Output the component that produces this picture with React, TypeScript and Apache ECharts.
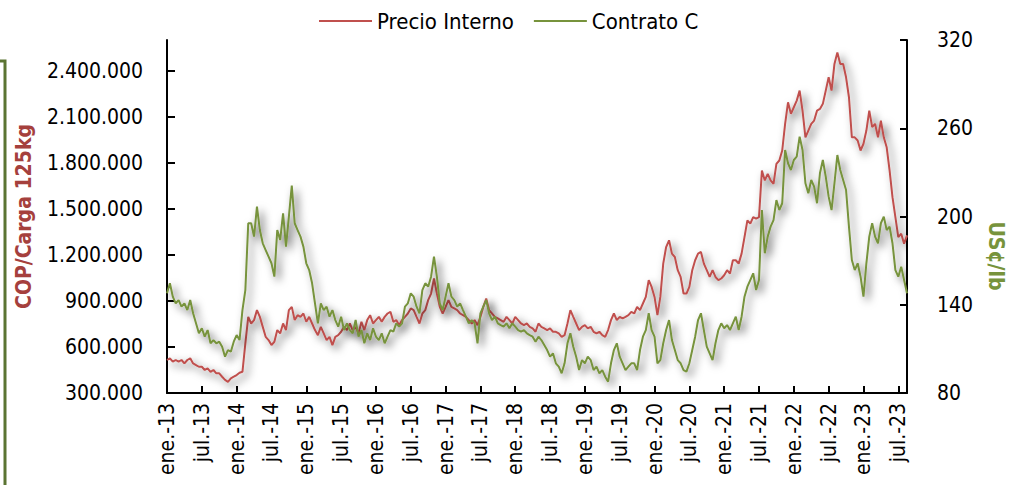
import React, { useEffect, useRef } from "react";
import * as echarts from "echarts";

// Half-month categories, Jan 2013 .. Aug 2023
const MONTHS = ["ene", "feb", "mar", "abr", "may", "jun", "jul", "ago", "sep", "oct", "nov", "dic"];
const YEARS = [2013, 2014, 2015, 2016, 2017, 2018, 2019, 2020, 2021, 2022, 2023];
const LAST_MONTH_2023 = 8;

// Precio Interno (COP / carga 125 kg), two readings per month
const precio2013 = [515000, 526000, 504000, 515000, 504000, 515000, 493000, 515000, 526000, 493000, 482000, 471000, 471000, 450000, 461000, 438000, 450000, 428000, 428000, 406000, 385000, 373000, 396000, 406000];
const precio2014 = [417000, 432000, 438000, 623000, 796000, 753000, 775000, 840000, 796000, 731000, 666000, 645000, 612000, 634000, 710000, 688000, 753000, 710000, 840000, 861000, 775000, 807000, 796000, 818000];
const precio2015 = [764000, 796000, 753000, 710000, 677000, 731000, 688000, 645000, 666000, 612000, 666000, 677000, 699000, 731000, 710000, 753000, 710000, 731000, 688000, 764000, 710000, 775000, 807000, 753000];
const precio2016 = [775000, 796000, 764000, 796000, 818000, 829000, 764000, 775000, 742000, 775000, 796000, 818000, 851000, 840000, 796000, 753000, 818000, 840000, 905000, 948000, 1046000, 948000, 861000, 818000];
const precio2017 = [861000, 905000, 861000, 851000, 840000, 818000, 807000, 796000, 775000, 753000, 775000, 742000, 796000, 861000, 916000, 840000, 818000, 796000, 786000, 775000, 764000, 796000, 775000, 753000];
const precio2018 = [796000, 775000, 753000, 742000, 753000, 731000, 721000, 699000, 753000, 731000, 721000, 710000, 721000, 699000, 699000, 688000, 666000, 677000, 753000, 840000, 796000, 753000, 710000, 731000];
const precio2019 = [742000, 721000, 731000, 699000, 688000, 699000, 677000, 666000, 710000, 775000, 818000, 775000, 796000, 786000, 796000, 807000, 829000, 818000, 861000, 840000, 883000, 926000, 1035000, 991000];
const precio2020 = [926000, 807000, 926000, 1143000, 1251000, 1295000, 1208000, 1186000, 1100000, 1056000, 948000, 948000, 991000, 1100000, 1165000, 1208000, 1219000, 1143000, 1100000, 1056000, 1100000, 1056000, 1035000, 1046000];
const precio2021 = [1067000, 1100000, 1078000, 1165000, 1165000, 1143000, 1208000, 1316000, 1425000, 1403000, 1446000, 1436000, 1446000, 1750000, 1685000, 1728000, 1685000, 1663000, 1793000, 1815000, 1880000, 2054000, 2194000, 2119000];
const precio2022 = [2162000, 2205000, 2270000, 2140000, 1966000, 2010000, 2054000, 2075000, 2140000, 2151000, 2184000, 2270000, 2357000, 2270000, 2444000, 2519000, 2444000, 2444000, 2357000, 2227000, 1966000, 1966000, 1945000, 1880000];
const precio2023 = [1924000, 2010000, 2140000, 2032000, 2054000, 1966000, 2075000, 1966000, 1901000, 1750000, 1576000, 1446000, 1316000, 1338000, 1273000, 1327000];

// Contrato C (US¢/lb), two readings per month
const contrato2013 = [147.8, 154.6, 145.5, 141, 143.2, 138.7, 141, 136.4, 143.2, 134.2, 127.4, 120.6, 124, 118.3, 122.8, 113.8, 116, 113.8, 114.9, 111.5, 104.7, 109.2, 108.1, 114.9];
const contrato2014 = [119.4, 116, 136.4, 150, 195.4, 195.4, 186.3, 206.7, 190.8, 181.8, 177.2, 172.7, 168.2, 159.1, 190.8, 184, 202.2, 179.5, 199.9, 221, 195.4, 190.8, 186.3, 179.5];
const contrato2015 = [168.2, 163.6, 154.6, 141, 127.4, 141, 136.4, 138.7, 131.9, 136.4, 129.6, 125.1, 131.9, 122.8, 127.4, 122.8, 120.6, 129.6, 118.3, 122.8, 113.8, 120.6, 116, 124];
const contrato2016 = [118.3, 116, 120.6, 113.8, 118.3, 122.8, 121.7, 127.4, 125.1, 127.4, 138.7, 141, 147.8, 145.5, 138.7, 134.2, 150, 154.6, 152.3, 159.1, 172.7, 159.1, 141, 136.4];
const contrato2017 = [145.5, 154.6, 145.5, 143.2, 138.7, 141, 136.4, 131.9, 127.4, 129.6, 127.4, 113.8, 134.2, 138.7, 143.2, 134.2, 129.6, 131.9, 127.4, 126.2, 125.1, 127.4, 124, 127.4];
const contrato2018 = [125.1, 122.8, 121.7, 122.8, 120.6, 119.4, 118.3, 114.9, 118.3, 116, 112.6, 109.2, 104.7, 107, 100.2, 97.9, 93.4, 100.2, 113.8, 120.6, 111.5, 104.7, 95.6, 102.4];
const contrato2019 = [100.2, 104.7, 102.4, 95.6, 97.9, 93.4, 95.6, 91.1, 87.7, 100.2, 109.2, 113.8, 104.7, 100.2, 95.6, 97.9, 100.2, 100.2, 95.6, 109.2, 118.3, 122.8, 134.2, 122.8];
const contrato2020 = [118.3, 100.2, 102.4, 113.8, 122.8, 129.6, 116, 109.2, 102.4, 100.2, 95.6, 94.5, 100.2, 109.2, 118.3, 129.6, 134.2, 122.8, 111.5, 107, 102.4, 113.8, 122.8, 127.4];
const contrato2021 = [124, 126.2, 122.8, 127.4, 131.9, 122.8, 131.9, 145.5, 152.3, 156.8, 161.4, 150, 156.8, 204.4, 175, 186.3, 193.1, 197.6, 211.2, 204.4, 209, 245.2, 236.2, 231.6];
const contrato2022 = [238.4, 240.7, 254.3, 245.2, 222.6, 215.8, 224.8, 220.3, 209, 229.4, 238.4, 227.1, 213.5, 204.4, 222.6, 241.8, 231.6, 224.8, 218, 193.1, 170.4, 163.6, 168.2, 159.1];
const contrato2023 = [145.5, 168.2, 186.3, 195.4, 186.3, 181.8, 195.4, 199.9, 190.8, 193.1, 181.8, 163.6, 159.1, 165.9, 156.8, 147.8];

const LEFT_TICKS = [300000, 600000, 900000, 1200000, 1500000, 1800000, 2100000, 2400000];
const RIGHT_TICKS = [80, 140, 200, 260, 320];

const precioInterno = [
  ...precio2013, ...precio2014, ...precio2015, ...precio2016, ...precio2017, ...precio2018,
  ...precio2019, ...precio2020, ...precio2021, ...precio2022, ...precio2023,
];
const contratoC = [
  ...contrato2013, ...contrato2014, ...contrato2015, ...contrato2016, ...contrato2017, ...contrato2018,
  ...contrato2019, ...contrato2020, ...contrato2021, ...contrato2022, ...contrato2023,
];

const categories: string[] = [];
YEARS.forEach((y) => {
  for (let m = 1; m <= 12; m++) {
    if (y === 2023 && m > LAST_MONTH_2023) break;
    categories.push(`${y}-${m}-1`, `${y}-${m}-2`);
  }
});

const FONT = "'DejaVu Sans Condensed', 'Liberation Sans', sans-serif";
const RED = "#C0504D";
const GREEN = "#77933C";
const FS = 21;

const fmtThousands = (v: number) => String(Math.round(v)).replace(/\B(?=(\d{3})+(?!\d))/g, ".");
const everySixMonths = (index: number) => index % 12 === 0;

export default function App() {
  const ref = useRef<HTMLDivElement>(null);
  useEffect(() => {
    if (!ref.current) return;
    const chart = echarts.init(ref.current, undefined, { renderer: "svg" });
    const shadow = {
      shadowColor: "rgba(0,0,0,0.65)",
      shadowBlur: 9,
      shadowOffsetX: 4,
      shadowOffsetY: 4,
    };
    chart.setOption({
      animation: false,
      backgroundColor: "#fff",
      textStyle: { fontFamily: FONT },
      legend: {
        left: 314,
        top: 5,
        icon: "rect",
        itemWidth: 53,
        itemHeight: 2,
        itemGap: 20,
        textStyle: { fontSize: 22, fontFamily: FONT, color: "#000" },
        data: ["Precio Interno", "Contrato C"],
      },
      grid: { left: 167, right: 103, top: 40, bottom: 92, containLabel: false, outerBoundsMode: "none" },
      xAxis: {
        type: "category",
        data: categories,
        boundaryGap: false,
        axisLine: { show: true, lineStyle: { color: "#000", width: 2 } },
        axisTick: { show: true, inside: true, length: 7, interval: everySixMonths, lineStyle: { color: "#000", width: 2 } },
        axisLabel: {
          interval: everySixMonths,
          rotate: 90,
          margin: 10,
          fontSize: FS,
          fontFamily: FONT,
          color: "#000",
          formatter: (val: string) => {
            const [y, m] = val.split("-");
            return `${MONTHS[Number(m) - 1]}.-${y.slice(2)}`;
          },
        },
        splitLine: { show: false },
      },
      yAxis: [
        {
          type: "value",
          min: 300000,
          max: 2600000,
          interval: 300000,
          name: "COP/Carga 125kg",
          nameLocation: "middle",
          nameRotate: 90,
          nameGap: 133,
          nameTextStyle: { fontSize: FS, fontWeight: "bold", fontFamily: FONT, color: "#A5403D" },
          axisLine: { show: true, lineStyle: { color: "#000", width: 2 } },
          axisTick: { show: true, inside: true, length: 8, customValues: LEFT_TICKS, lineStyle: { color: "#000", width: 2 } },
          axisLabel: { customValues: LEFT_TICKS, margin: 24, fontSize: FS, fontFamily: FONT, color: "#000", formatter: fmtThousands },
          splitLine: { show: false },
        },
        {
          type: "value",
          position: "right",
          min: 80,
          max: 320,
          interval: 60,
          axisLine: { show: true, lineStyle: { color: "#000", width: 2 } },
          axisTick: { show: true, inside: true, length: 7, customValues: RIGHT_TICKS, lineStyle: { color: "#000", width: 2 } },
          axisLabel: { customValues: RIGHT_TICKS, margin: 30, fontSize: FS, fontFamily: FONT, color: "#000" },
          splitLine: { show: false },
        },
      ],
      series: [
        {
          name: "Precio Interno",
          type: "line",
          yAxisIndex: 0,
          data: precioInterno,
          showSymbol: false,
          symbol: "none",
          itemStyle: { color: RED },
          lineStyle: { color: RED, width: 2, ...shadow },
          z: 2,
        },
        {
          name: "Contrato C",
          type: "line",
          yAxisIndex: 1,
          data: contratoC,
          showSymbol: false,
          symbol: "none",
          itemStyle: { color: GREEN },
          lineStyle: { color: GREEN, width: 2, ...shadow },
          z: 3,
        },
      ],
      graphic: [
        {
          type: "polyline",
          shape: { points: [[0, 61], [5, 61], [5, 490]] },
          style: { stroke: "#5B7432", lineWidth: 3, fill: "none" },
          silent: true,
        },
        {
          type: "text",
          x: 996,
          y: 256,
          rotation: -Math.PI / 2,
          style: {
            text: "US¢/lb",
            fontSize: FS,
            fontWeight: "bold",
            fontFamily: FONT,
            fill: GREEN,
            align: "center",
            verticalAlign: "middle",
          },
          silent: true,
        },
      ],
    });
    return () => chart.dispose();
  }, []);
  return (
    <div
      ref={ref}
      style={{ position: "absolute", left: 0, top: 0, width: 1010, height: 485 }}
    />
  );
}
